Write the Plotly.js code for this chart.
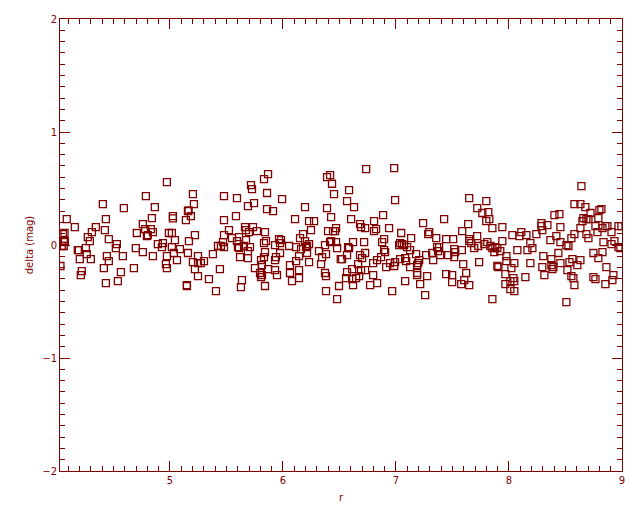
<!DOCTYPE html>
<html>
<head>
<meta charset="utf-8">
<script src="https://cdn.plot.ly/plotly-3.0.1.min.js"></script>
<style>html,body{margin:0;padding:0;background:#fff;}#plot{width:640px;height:512px;}</style>
</head>
<body>
<div id="plot"></div>
<script>
// r values (x) and delta (mag) values (y)
const rA = [4.973,5.203,4.787,5.212,4.406,4.592,4.866,5.165,5.159,5.026,5.026,5.185,5.141,4.840,4.433,4.087,4.158,4.344,4.760,4.424,4.781,4.831,4.707,4.849,4.804,4.796,4.991,5.017,4.067,4.052,4.309,4.273,4.291,4.459,5.044,5.221,5.168,4.070,4.061,4.530,4.521,4.893,4.938,4.929,5.017,4.061,4.043,4.698,4.256,4.185,4.194,5.088,4.760,5.035,5.159,4.264,4.442,4.583,4.849,4.973,5.248,4.202,4.300,4.459,5.062,5.203,5.248,4.964,4.031,4.415,4.681,4.973,5.221,4.220,4.211,4.566,5.248,4.433,4.539,5.150,5.150];
const dA = [0.557,0.451,0.433,0.362,0.362,0.327,0.336,0.306,0.300,0.256,0.235,0.256,0.221,0.238,0.229,0.229,0.159,0.159,0.185,0.132,0.141,0.141,0.106,0.114,0.088,0.079,0.106,0.106,0.106,0.097,0.114,0.070,0.035,0.052,0.044,0.088,0.035,0.035,0.026,0.008,-0.027,0.008,0.017,-0.018,-0.018,-0.009,-0.009,-0.027,-0.027,-0.045,-0.045,-0.036,-0.063,-0.071,-0.071,-0.080,-0.098,-0.098,-0.098,-0.098,-0.098,-0.125,-0.125,-0.142,-0.133,-0.151,-0.160,-0.169,-0.186,-0.204,-0.204,-0.204,-0.213,-0.231,-0.266,-0.240,-0.275,-0.337,-0.319,-0.355,-0.363];

const rB = [5.868,5.832,6.417,6.390,6.434,5.717,5.726,5.859,6.452,5.478,5.593,5.992,5.744,5.690,6.195,6.390,5.859,5.912,5.584,6.426,6.107,5.478,6.231,6.275,5.664,5.735,5.522,6.248,6.470,5.673,5.699,5.770,5.841,6.399,6.443,6.461,5.478,5.611,6.178,5.549,6.151,5.593,5.673,5.850,5.832,5.965,5.983,5.974,6.195,6.426,6.417,6.470,5.469,5.425,5.451,5.478,5.602,5.611,5.655,5.708,5.930,6.054,6.116,6.231,6.213,6.204,6.372,6.479,5.690,5.841,5.974,6.160,6.213,6.319,6.381,5.380,5.620,5.690,5.832,5.938,5.930,6.142,6.346,5.806,6.116,6.231,6.337,5.301,5.274,5.814,6.062,5.752,5.868,5.930,5.442,6.142,5.797,5.814,5.806,5.947,6.062,6.372,6.381,5.345,5.637,6.142,6.080,5.628,5.841,6.496,5.407,6.381,6.479];
const dB = [0.628,0.583,0.619,0.601,0.542,0.530,0.495,0.460,0.451,0.433,0.415,0.406,0.371,0.344,0.336,0.327,0.318,0.300,0.256,0.247,0.229,0.221,0.212,0.212,0.159,0.159,0.132,0.132,0.150,0.132,0.114,0.123,0.114,0.123,0.123,0.123,0.088,0.070,0.097,0.061,0.061,0.035,0.044,0.035,0.017,0.052,0.044,0.017,0.035,0.035,0.026,0.026,0.026,-0.009,-0.009,-0.018,-0.018,-0.027,-0.009,-0.018,-0.001,-0.009,-0.018,0.008,-0.009,-0.018,-0.001,-0.027,-0.054,-0.063,-0.071,-0.036,-0.071,-0.054,-0.080,-0.080,-0.107,-0.116,-0.107,-0.107,-0.133,-0.098,-0.107,-0.133,-0.142,-0.151,-0.169,-0.142,-0.160,-0.178,-0.178,-0.204,-0.213,-0.222,-0.213,-0.222,-0.248,-0.266,-0.284,-0.266,-0.248,-0.248,-0.275,-0.302,-0.310,-0.293,-0.319,-0.372,-0.363,-0.363,-0.408,-0.408,-0.479];

const rC = [6.736,6.984,6.585,6.567,6.629,6.992,7.648,7.719,6.886,6.603,6.806,6.682,6.691,6.727,6.824,6.806,6.939,7.240,7.426,7.639,7.586,7.046,7.294,7.285,7.356,7.134,6.895,6.877,6.718,6.620,6.576,6.585,6.727,6.895,6.904,7.037,7.054,7.028,7.072,7.099,7.125,7.178,7.267,7.320,7.364,7.382,7.373,7.391,7.444,7.506,7.515,7.524,7.583,7.648,7.648,7.666,7.719,7.692,7.728,6.682,6.567,6.511,6.523,6.700,6.833,6.868,6.948,6.992,7.037,7.081,7.090,7.205,7.196,7.187,7.329,7.462,7.515,6.665,6.798,6.913,6.984,7.125,7.595,7.736,6.612,6.691,6.727,6.567,6.674,6.558,6.612,6.647,6.798,7.187,7.187,7.276,7.444,7.497,7.621,7.604,7.497,7.577,7.648,7.081,7.214,6.833,6.771,6.620,6.966,7.258];
const dC = [0.672,0.681,0.486,0.389,0.336,0.398,0.415,0.327,0.265,0.229,0.212,0.185,0.159,0.150,0.141,0.123,0.150,0.194,0.229,0.185,0.123,0.106,0.114,0.097,0.061,0.061,0.052,0.026,0.026,0.026,-0.018,-0.027,-0.071,-0.045,-0.063,0.017,0.008,-0.001,-0.001,-0.018,-0.045,-0.080,-0.089,-0.071,-0.018,-0.018,-0.054,-0.089,0.052,0.052,-0.036,-0.063,-0.045,0.052,0.035,0.017,0.079,-0.027,-0.009,-0.089,-0.089,-0.125,-0.125,-0.116,-0.133,-0.107,-0.160,-0.151,-0.125,-0.116,-0.142,-0.133,-0.160,-0.178,-0.133,-0.089,-0.107,-0.169,-0.160,-0.195,-0.186,-0.195,-0.169,-0.151,-0.213,-0.222,-0.222,-0.240,-0.275,-0.293,-0.302,-0.293,-0.266,-0.248,-0.266,-0.275,-0.257,-0.266,-0.248,-0.310,-0.328,-0.346,-0.355,-0.319,-0.346,-0.337,-0.355,-0.355,-0.408,-0.443];

const rD = [8.641,7.799,8.579,8.632,8.676,7.817,7.764,8.721,8.402,8.446,8.800,8.818,7.826,7.799,8.659,8.650,8.685,8.703,8.791,7.853,7.941,8.287,8.287,8.340,8.295,8.455,8.632,8.765,8.827,8.853,8.871,8.969,8.995,8.907,8.109,8.030,8.092,8.154,8.242,8.579,8.685,8.783,8.419,8.552,8.703,8.366,8.455,7.941,7.808,7.782,8.189,7.835,7.853,7.879,7.897,7.870,7.923,8.074,8.163,8.207,8.508,8.526,8.836,8.933,8.907,8.969,8.986,8.747,8.827,8.437,8.304,8.375,7.977,7.977,8.047,8.189,8.455,8.535,8.561,8.632,8.605,8.791,7.897,7.906,8.021,8.295,8.375,8.393,8.384,8.517,8.862,7.968,8.313,8.145,8.039,8.552,8.570,8.747,8.765,8.924,8.915,8.012,8.047,7.968,8.579,8.853,8.012,8.047,7.853,8.508];
const dD = [0.521,0.389,0.362,0.362,0.336,0.291,0.283,0.283,0.265,0.274,0.309,0.318,0.229,0.212,0.238,0.212,0.229,0.229,0.238,0.150,0.159,0.194,0.167,0.176,0.132,0.159,0.150,0.167,0.150,0.167,0.167,0.167,0.167,0.114,0.114,0.088,0.079,0.088,0.097,0.097,0.097,0.114,0.079,0.061,0.061,0.044,0.026,0.035,0.026,0.008,0.017,-0.009,-0.027,-0.018,-0.027,-0.063,-0.054,-0.045,-0.045,-0.027,-0.001,-0.009,0.026,0.035,0.008,-0.018,-0.027,-0.071,-0.063,-0.071,-0.098,-0.125,-0.098,-0.142,-0.160,-0.160,-0.160,-0.151,-0.125,-0.133,-0.178,-0.116,-0.186,-0.195,-0.204,-0.195,-0.178,-0.195,-0.213,-0.222,-0.195,-0.257,-0.266,-0.284,-0.293,-0.275,-0.293,-0.284,-0.302,-0.266,-0.310,-0.319,-0.319,-0.346,-0.355,-0.346,-0.390,-0.408,-0.479,-0.505];

const xTickVals = [5, 6, 7, 8, 9];
const yTickVals = [-2, -1, 0, 1, 2];
const xTitle = 'r';
const yTitle = 'delta (mag)';

const r = rA.concat(rB, rC, rD);
const d = dA.concat(dB, dC, dD);

const red = '#800000';
const fontFam = 'DejaVu Sans, sans-serif';

const trace = {
  x: r, y: d, type: 'scatter', mode: 'markers',
  marker: {symbol: 'square-open', size: 7, color: red, line: {color: red, width: 1.3}},
  hoverinfo: 'none'
};

const axisCommon = {
  showline: true, linecolor: red, linewidth: 1, mirror: 'allticks',
  ticks: 'inside', ticklen: 10, tickwidth: 1, tickcolor: red,
  showgrid: false, zeroline: false,
  tickfont: {family: fontFam, size: 10, color: red},
  minor: {dtick: 0.1, ticks: 'inside', ticklen: 5, tickwidth: 1, tickcolor: red, showgrid: false}
};

const layout = {
  width: 640, height: 512,
  margin: {l: 60, r: 18, t: 19, b: 41},
  paper_bgcolor: '#fff', plot_bgcolor: '#fff',
  showlegend: false,
  xaxis: Object.assign({}, axisCommon, {
    range: [4.027, 9], tickmode: 'array', tickvals: xTickVals, ticktext: xTickVals.map(String),
    title: {text: xTitle, font: {family: fontFam, size: 10, color: red}, standoff: 8}
  }),
  yaxis: Object.assign({}, axisCommon, {
    range: [-2, 2], tickmode: 'array', tickvals: yTickVals, ticktext: yTickVals.map(v => v < 0 ? '\u2212' + Math.abs(v) : String(v)),
    title: {text: yTitle, font: {family: fontFam, size: 10, color: red}, standoff: 6}
  })
};

Plotly.newPlot('plot', [trace], layout, {staticPlot: true, displayModeBar: false});
</script>
</body>
</html>
